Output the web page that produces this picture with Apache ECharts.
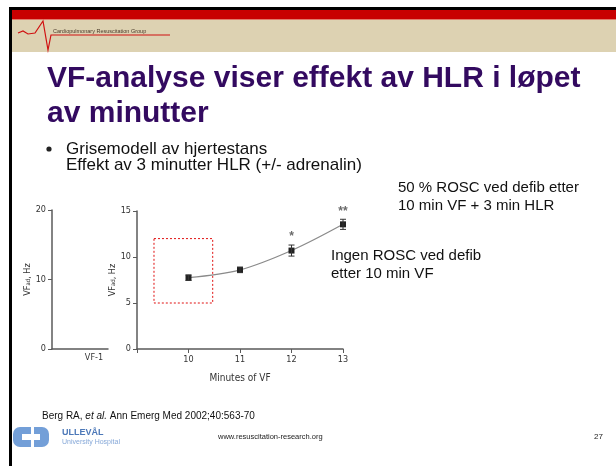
<!DOCTYPE html>
<html>
<head>
<meta charset="utf-8">
<script src="https://cdn.jsdelivr.net/npm/echarts@6/dist/echarts.min.js"></script>
<style>
html,body{margin:0;padding:0;background:#fff;}
#chart{width:616px;height:466px;}
</style>
</head>
<body>
<div id="chart"></div>
<script>
// ---- data ----
const minutes = [10, 11, 12, 13];
const vfMean = [7.75, 8.6, 10.7, 13.55];
const vfSem = [0.3, 0.3, 0.6, 0.55];
const significance = ['', '', '*', '**'];
const mainYTicks = [0, 5, 10, 15];
const mainXRange = [9, 13];
const leftYTicks = [0, 10, 20];
const leftCategories = ['', 'VF-1'];
const boxX = [9.33, 10.47];
const boxY = [5, 12];

const titleLines = ['VF-analyse viser effekt av HLR i løpet', 'av minutter'];
const bulletLines = ['Grisemodell av hjertestans', 'Effekt av 3 minutter HLR (+/- adrenalin)'];
const noteRosc = ['50 % ROSC ved defib etter', '10 min VF + 3 min HLR'];
const noteNoRosc = ['Ingen ROSC ved defib', 'etter 10 min VF'];
const citation = 'Berg RA, ';
const citationItalic = 'et al.';
const citationRest = ' Ann Emerg Med 2002;40:563-70';

const chart = echarts.init(document.getElementById('chart'), null, {renderer: 'canvas'});

const narrow = '"Liberation Sans Narrow", "DejaVu Sans Condensed", "Liberation Sans", sans-serif';
const sans = '"Liberation Sans", Arial, sans-serif';
const axisCol = '#5a5a5a';

const lineData = minutes.map((m, i) => [m, vfMean[i]]);
const errData = minutes.map((m, i) => [m, vfMean[i] - vfSem[i], vfMean[i] + vfSem[i]]);
const sigData = minutes.map((m, i) => ({value: [m, vfMean[i] + vfSem[i]], sig: significance[i]}));

const yName = '{a|VF}{b|ad}{a|, Hz}';
const yRich = {
  a: {fontFamily: narrow, fontSize: 9, color: '#333'},
  b: {fontFamily: narrow, fontSize: 6, color: '#333', verticalAlign: 'bottom'}
};

const option = {
  animation: false,
  backgroundColor: '#fff',
  grid: [
    {left: 52, top: 210, width: 56, height: 139, containLabel: false},
    {left: 137, top: 211, width: 206, height: 138, containLabel: false}
  ],
  xAxis: [
    {
      gridIndex: 0, type: 'category', data: leftCategories, boundaryGap: true,
      axisLine: {lineStyle: {color: axisCol, width: 1.5}},
      axisTick: {show: false},
      axisLabel: {fontFamily: narrow, fontSize: 9, color: '#333', margin: 4}
    },
    {
      gridIndex: 1, type: 'value', min: mainXRange[0], max: mainXRange[1], interval: 1,
      splitLine: {show: false},
      axisLine: {lineStyle: {color: axisCol, width: 1.5}},
      axisTick: {show: true, length: 4, lineStyle: {color: axisCol}},
      axisLabel: {fontFamily: narrow, fontSize: 9, color: '#333', margin: 6,
        formatter: v => (v === mainXRange[0] ? '' : String(v))},
      name: 'Minutes of VF', nameLocation: 'middle', nameGap: 24,
      nameTextStyle: {fontFamily: narrow, fontSize: 10, color: '#333'}
    }
  ],
  yAxis: [
    {
      gridIndex: 0, type: 'value', min: leftYTicks[0], max: leftYTicks[leftYTicks.length - 1],
      interval: leftYTicks[1] - leftYTicks[0],
      splitLine: {show: false},
      axisLine: {show: true, lineStyle: {color: axisCol, width: 1.5}},
      axisTick: {show: true, length: 4, lineStyle: {color: axisCol}},
      axisLabel: {fontFamily: narrow, fontSize: 9, color: '#333', margin: 6},
      name: yName, nameLocation: 'middle', nameGap: 18, nameRotate: 90,
      nameTextStyle: {rich: yRich}
    },
    {
      gridIndex: 1, type: 'value', min: mainYTicks[0], max: mainYTicks[mainYTicks.length - 1],
      interval: mainYTicks[1] - mainYTicks[0],
      splitLine: {show: false},
      axisLine: {show: true, lineStyle: {color: axisCol, width: 1.5}},
      axisTick: {show: true, length: 4, lineStyle: {color: axisCol}},
      axisLabel: {fontFamily: narrow, fontSize: 9, color: '#333', margin: 6},
      name: yName, nameLocation: 'middle', nameGap: 15, nameRotate: 90,
      nameTextStyle: {rich: yRich}
    }
  ],
  series: [
    {
      type: 'line', xAxisIndex: 1, yAxisIndex: 1, data: lineData, smooth: 0.35,
      symbol: 'rect', symbolSize: 6, showSymbol: true,
      lineStyle: {color: '#8a8a8a', width: 1.2},
      itemStyle: {color: '#222'},
      z: 3,
      markArea: {
        silent: true,
        itemStyle: {color: 'rgba(0,0,0,0)', borderColor: '#e01010', borderWidth: 1, borderType: [2, 2]},
        data: [[{coord: [boxX[0], boxY[1]]}, {coord: [boxX[1], boxY[0]]}]]
      }
    },
    {
      type: 'custom', xAxisIndex: 1, yAxisIndex: 1, data: errData, z: 4,
      renderItem: function (params, api) {
        const x = api.value(0);
        const lo = api.coord([x, api.value(1)]);
        const hi = api.coord([x, api.value(2)]);
        const w = 3;
        const st = {stroke: '#333', lineWidth: 1};
        return {
          type: 'group',
          children: [
            {type: 'line', shape: {x1: lo[0], y1: lo[1], x2: hi[0], y2: hi[1]}, style: st},
            {type: 'line', shape: {x1: lo[0] - w, y1: lo[1], x2: lo[0] + w, y2: lo[1]}, style: st},
            {type: 'line', shape: {x1: hi[0] - w, y1: hi[1], x2: hi[0] + w, y2: hi[1]}, style: st}
          ]
        };
      }
    },
    {
      type: 'scatter', xAxisIndex: 1, yAxisIndex: 1, data: sigData, symbolSize: 0, z: 5,
      label: {show: true, position: 'top', distance: 2, fontFamily: sans, fontSize: 12, fontWeight: 'bold', color: '#444',
        formatter: p => p.data.sig}
    }
  ],
  graphic: [
    // slide frame and header
    {type: 'rect', shape: {x: 9, y: 7, width: 607, height: 3}, style: {fill: '#000'}},
    {type: 'rect', shape: {x: 9, y: 7, width: 3, height: 459}, style: {fill: '#000'}},
    {type: 'rect', shape: {x: 12, y: 10, width: 604, height: 9}, style: {fill: '#c80000'}},
    {type: 'rect', shape: {x: 12, y: 19, width: 604, height: 1}, style: {fill: '#e07a6a'}},
    {type: 'rect', shape: {x: 12, y: 20, width: 604, height: 32}, style: {fill: '#ddd2b2'}},
    {type: 'polyline', shape: {points: [[18, 33], [23, 31], [28, 34], [35, 33], [43, 21], [48, 50], [51, 35], [170, 35]]},
      style: {stroke: '#d01010', lineWidth: 1.2, fill: null}},
    {type: 'text', style: {x: 53, y: 31, text: 'Cardiopulmonary Resuscitation Group', font: '5.5px ' + sans, fill: '#4a3a2a', textVerticalAlign: 'middle'}},
    // title
    {type: 'text', style: {x: 47, y: 79, text: titleLines[0], font: 'bold 30px ' + sans, fill: '#330a60', textVerticalAlign: 'middle'}},
    {type: 'text', style: {x: 47, y: 114, text: titleLines[1], font: 'bold 30px ' + sans, fill: '#330a60', textVerticalAlign: 'middle'}},
    // bullet
    {type: 'circle', shape: {cx: 49, cy: 149, r: 2.6}, style: {fill: '#222'}},
    {type: 'text', style: {x: 66, y: 149, text: bulletLines[0], font: '17px ' + sans, fill: '#111', textVerticalAlign: 'middle'}},
    {type: 'text', style: {x: 66, y: 165, text: bulletLines[1], font: '17px ' + sans, fill: '#111', textVerticalAlign: 'middle'}},
    // notes
    {type: 'text', style: {x: 398, y: 188, text: noteRosc[0], font: '15px ' + sans, fill: '#111', textVerticalAlign: 'middle'}},
    {type: 'text', style: {x: 398, y: 206, text: noteRosc[1], font: '15px ' + sans, fill: '#111', textVerticalAlign: 'middle'}},
    {type: 'text', style: {x: 331, y: 256, text: noteNoRosc[0], font: '15px ' + sans, fill: '#111', textVerticalAlign: 'middle'}},
    {type: 'text', style: {x: 331, y: 274, text: noteNoRosc[1], font: '15px ' + sans, fill: '#111', textVerticalAlign: 'middle'}},
    // citation
    {type: 'text', style: {x: 42, y: 416, text: '{n|' + citation + '}{i|' + citationItalic + '}{n|' + citationRest + '}',
      rich: {n: {font: '10px ' + sans, fill: '#111'}, i: {font: 'italic 10px ' + sans, fill: '#111'}}, textVerticalAlign: 'middle'}},
    // logo
    {type: 'rect', shape: {x: 13, y: 427, width: 18, height: 20, r: [7, 0, 0, 7]}, style: {fill: '#739fd8'}},
    {type: 'rect', shape: {x: 22, y: 434, width: 9, height: 6}, style: {fill: '#fff'}},
    {type: 'rect', shape: {x: 34, y: 427, width: 15, height: 20, r: [0, 7, 7, 0]}, style: {fill: '#739fd8'}},
    {type: 'rect', shape: {x: 34, y: 434, width: 6, height: 6}, style: {fill: '#fff'}},
    {type: 'text', style: {x: 62, y: 433, text: 'ULLEVÅL', font: 'bold 9px ' + sans, fill: '#4c78b8', textVerticalAlign: 'middle'}},
    {type: 'text', style: {x: 62, y: 442, text: 'University Hospital', font: '7px ' + sans, fill: '#86a8d8', textVerticalAlign: 'middle'}},
    {type: 'text', style: {x: 218, y: 437, text: 'www.resuscitation-research.org', font: '7.5px ' + sans, fill: '#222', textVerticalAlign: 'middle'}},
    {type: 'text', style: {x: 594, y: 437, text: '27', font: '8px ' + sans, fill: '#222', textVerticalAlign: 'middle'}}
  ]
};
chart.setOption(option);
</script>
</body>
</html>
